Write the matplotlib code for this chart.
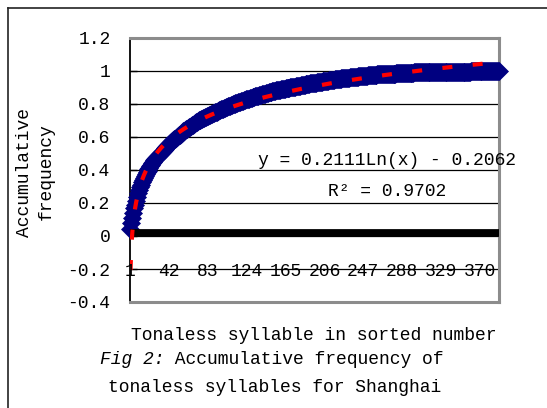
import matplotlib
matplotlib.use('Agg')
import matplotlib.pyplot as plt
import numpy as np
from matplotlib.lines import Line2D

plt.rcParams['font.family'] = ['Liberation Mono', 'DejaVu Sans Mono']
plt.rcParams['font.size'] = 13

# ---------------- data ----------------
rank = list(range(1, 391))
cum_freq = [
    0.045, 0.080, 0.112, 0.141, 0.167, 0.190, 0.215, 0.238, 0.260, 0.280,
    0.296, 0.311, 0.325, 0.338, 0.351, 0.363, 0.374, 0.385, 0.396, 0.406,
    0.415, 0.424, 0.433, 0.442, 0.450, 0.458, 0.465, 0.472, 0.479, 0.485,
    0.492, 0.498, 0.504, 0.510, 0.517, 0.523, 0.530, 0.536, 0.542, 0.548,
    0.554, 0.560, 0.565, 0.570, 0.575, 0.580, 0.585, 0.590, 0.595, 0.600,
    0.605, 0.610, 0.615, 0.620, 0.625, 0.630, 0.634, 0.638, 0.642, 0.647,
    0.651, 0.655, 0.659, 0.663, 0.667, 0.671, 0.675, 0.679, 0.684, 0.688,
    0.692, 0.696, 0.700, 0.703, 0.706, 0.709, 0.711, 0.714, 0.717, 0.720,
    0.723, 0.726, 0.729, 0.731, 0.734, 0.737, 0.740, 0.743, 0.746, 0.749,
    0.751, 0.754, 0.757, 0.760, 0.762, 0.765, 0.767, 0.770, 0.772, 0.775,
    0.777, 0.780, 0.782, 0.785, 0.787, 0.790, 0.792, 0.795, 0.797, 0.799,
    0.802, 0.804, 0.806, 0.808, 0.810, 0.813, 0.815, 0.817, 0.819, 0.821,
    0.824, 0.826, 0.828, 0.830, 0.832, 0.833, 0.835, 0.837, 0.839, 0.840,
    0.842, 0.844, 0.846, 0.847, 0.849, 0.851, 0.852, 0.854, 0.856, 0.858,
    0.859, 0.861, 0.863, 0.864, 0.866, 0.868, 0.870, 0.871, 0.873, 0.875,
    0.876, 0.878, 0.880, 0.881, 0.882, 0.884, 0.885, 0.886, 0.887, 0.888,
    0.890, 0.891, 0.892, 0.893, 0.894, 0.896, 0.897, 0.898, 0.899, 0.900,
    0.902, 0.903, 0.904, 0.905, 0.906, 0.908, 0.909, 0.910, 0.911, 0.912,
    0.914, 0.915, 0.916, 0.917, 0.918, 0.920, 0.921, 0.922, 0.923, 0.924,
    0.925, 0.926, 0.927, 0.927, 0.928, 0.929, 0.930, 0.931, 0.932, 0.933,
    0.934, 0.935, 0.936, 0.937, 0.938, 0.938, 0.939, 0.940, 0.941, 0.942,
    0.943, 0.944, 0.945, 0.946, 0.947, 0.948, 0.949, 0.949, 0.950, 0.951,
    0.952, 0.953, 0.954, 0.955, 0.956, 0.956, 0.957, 0.958, 0.958, 0.959,
    0.959, 0.960, 0.961, 0.961, 0.962, 0.963, 0.963, 0.964, 0.965, 0.965,
    0.966, 0.967, 0.967, 0.968, 0.968, 0.969, 0.970, 0.970, 0.971, 0.972,
    0.972, 0.973, 0.974, 0.974, 0.975, 0.975, 0.976, 0.977, 0.977, 0.978,
    0.978, 0.979, 0.979, 0.979, 0.980, 0.980, 0.980, 0.981, 0.981, 0.981,
    0.982, 0.982, 0.982, 0.982, 0.983, 0.983, 0.983, 0.984, 0.984, 0.984,
    0.984, 0.985, 0.985, 0.985, 0.986, 0.986, 0.986, 0.987, 0.987, 0.987,
    0.987, 0.988, 0.988, 0.988, 0.989, 0.989, 0.989, 0.990, 0.990, 0.990,
    0.991, 0.991, 0.991, 0.991, 0.991, 0.991, 0.991, 0.991, 0.991, 0.991,
    0.992, 0.992, 0.992, 0.992, 0.992, 0.992, 0.992, 0.992, 0.992, 0.992,
    0.993, 0.993, 0.993, 0.993, 0.993, 0.993, 0.993, 0.993, 0.993, 0.993,
    0.994, 0.994, 0.994, 0.994, 0.994, 0.994, 0.994, 0.994, 0.994, 0.994,
    0.995, 0.995, 0.995, 0.995, 0.995, 0.995, 0.995, 0.995, 0.995, 0.995,
    0.996, 0.996, 0.996, 0.996, 0.996, 0.996, 0.996, 0.996, 0.996, 0.996,
    0.997, 0.997, 0.997, 0.997, 0.997, 0.997, 0.997, 0.997, 0.997, 0.997,
    0.998, 0.998, 0.998, 0.998, 0.998, 0.998, 0.998, 0.998, 0.999, 0.999,
    0.999, 0.999, 0.999, 0.999, 0.999, 1.000, 1.000, 1.000, 1.000, 1.000,
]
label_ranks = [1, 42, 83, 124, 165, 206, 247, 288, 329, 370]
y_ticks = [-0.4, -0.2, 0.0, 0.2, 0.4, 0.6, 0.8, 1.0, 1.2]
y_tick_labels = ['-0.4', '-0.2', '0', '0.2', '0.4', '0.6', '0.8', '1', '1.2']
label_row_level = -0.2
axis_band_level = 0.018
trend_slope = 0.2111
trend_intercept = -0.2062
r_squared = 0.9702

x_title = 'Tonaless syllable in sorted number'
y_title = 'Accumulative\nfrequency'
caption_italic = 'Fig 2:'
caption_rest = ' Accumulative frequency of'
caption_line2 = 'tonaless syllables for Shanghai'

# ---------------- figure ----------------
W, H = 547, 408
fig = plt.figure(figsize=(W / 100, H / 100), dpi=100)
fig.patch.set_facecolor('white')

L, R, T, B = 130, 499, 38, 302
ax = fig.add_axes([L / W, (H - B) / H, (R - L) / W, (B - T) / H])
ax.set_xlim(0.5, len(rank) + 0.5)
ax.set_ylim(y_ticks[0], y_ticks[-1])

ax.set_yticks(y_ticks)
ax.set_yticklabels(y_tick_labels)
ax.tick_params(axis='y', direction='in', length=5, width=1, pad=14,
               labelsize=13, colors='black')
ax.set_xticks([])
ax.yaxis.grid(True, color='black', linewidth=0.9)
ax.set_axisbelow(True)

for side in ['top', 'right', 'bottom']:
    ax.spines[side].set_color('#8c8c8c')
    ax.spines[side].set_linewidth(2.2)
ax.spines['left'].set_color('black')
ax.spines['left'].set_linewidth(1.3)

# data series (navy diamonds)
ax.plot(rank, cum_freq, linestyle='none', marker='D', markersize=8.8,
        color='#000080', markeredgecolor='#000080', markeredgewidth=0.5,
        zorder=3, clip_on=False)

# thick black category axis band
ax.axhline(axis_band_level, color='black', linewidth=5.6, zorder=3.5)

# logarithmic trendline
xr = np.array(rank, dtype=float)
ax.plot(xr, trend_slope * np.log(xr) + trend_intercept, color='red',
        linewidth=3.0, linestyle=(0, (2.4, 4.9)), zorder=4,
        solid_capstyle='butt', dash_capstyle='butt')

# category labels along the -0.2 line
for r in label_ranks:
    ax.text(r, label_row_level, str(r), ha='center', va='center_baseline',
            fontsize=13, zorder=5, clip_on=False)

# equation text
eq = f'y = {trend_slope:.4f}Ln(x) - {abs(trend_intercept):.4f}'
ax.text(0.6965, 0.536, eq, transform=ax.transAxes, ha='center',
        va='center', fontsize=13, zorder=6, clip_on=False)
ax.text(0.6965, 0.418, f'R\u00b2 = {r_squared:.4f}', transform=ax.transAxes,
        ha='center', va='center', fontsize=13, zorder=6)

# axis titles
fig.text(314 / W, 1 - 336 / H, x_title, ha='center', va='center', fontsize=13)
fig.text(35 / W, 1 - 172 / H, y_title, ha='center', va='center',
         rotation=90, multialignment='center', linespacing=1.35, fontsize=13)

# caption
t1 = fig.text(100 / W, 1 - 359 / H, caption_italic, ha='left', va='center',
              style='italic', fontsize=13)
fig.canvas.draw()
bb = t1.get_window_extent()
fig.text(bb.x1 / W, 1 - 359 / H, caption_rest, ha='left', va='center',
         fontsize=13)
fig.text(275 / W, 1 - 387 / H, caption_line2, ha='center', va='center',
         fontsize=13)

# outer frame (left and top edges)
fig.add_artist(Line2D([7.5 / W, 7.5 / W], [0, 1 - 7.5 / H],
                      transform=fig.transFigure, color='#222222', linewidth=1.2))
fig.add_artist(Line2D([7.5 / W, 1], [1 - 7.5 / H, 1 - 7.5 / H],
                      transform=fig.transFigure, color='#222222', linewidth=1.2))

fig.savefig('out.png', dpi=100, facecolor='white')
